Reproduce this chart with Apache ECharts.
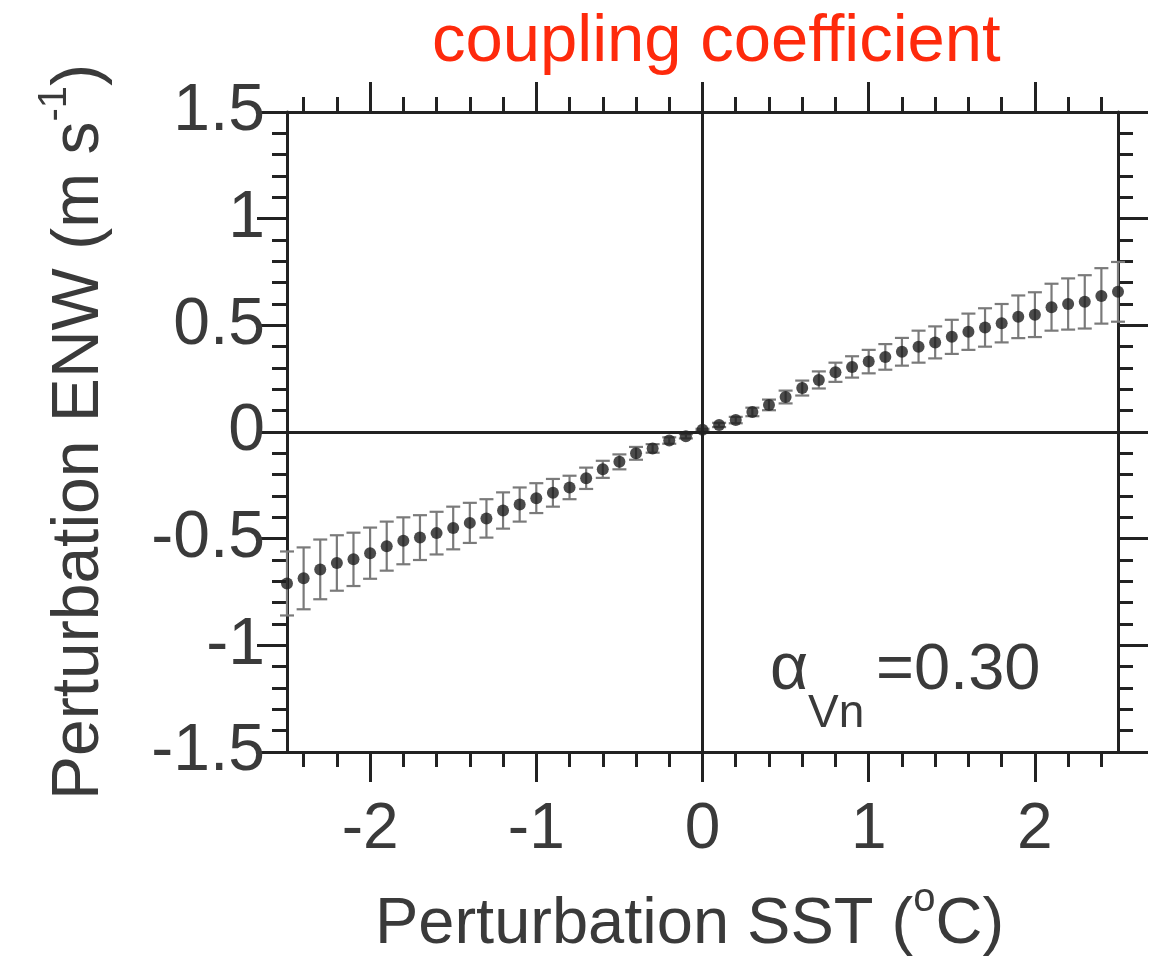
<!DOCTYPE html>
<html><head><meta charset="utf-8">
<script src="https://cdn.jsdelivr.net/npm/echarts@6/dist/echarts.min.js"></script>
<style>html,body{margin:0;padding:0;background:#fff}#c{width:1151px;height:965px}</style>
</head><body><div id="c"></div>
<script>
// Perturbation SST (°C)
const sstValues = [-2.5,-2.4,-2.3,-2.2,-2.1,-2.0,-1.9,-1.8,-1.7,-1.6,-1.5,-1.4,-1.3,-1.2,-1.1,-1.0,-0.9,-0.8,-0.7,-0.6,-0.5,-0.4,-0.3,-0.2,-0.1,0.0,0.1,0.2,0.3,0.4,0.5,0.6,0.7,0.8,0.9,1.0,1.1,1.2,1.3,1.4,1.5,1.6,1.7,1.8,1.9,2.0,2.1,2.2,2.3,2.4,2.5];
// Perturbation ENW (m s-1), mean
const enwValues = [-0.71,-0.686,-0.644,-0.614,-0.597,-0.568,-0.535,-0.51,-0.495,-0.474,-0.45,-0.426,-0.405,-0.368,-0.34,-0.31,-0.285,-0.26,-0.217,-0.175,-0.14,-0.10,-0.077,-0.04,-0.02,0.01,0.033,0.056,0.094,0.127,0.164,0.206,0.244,0.28,0.305,0.33,0.352,0.376,0.40,0.42,0.446,0.47,0.49,0.51,0.54,0.55,0.585,0.60,0.61,0.638,0.657];
// error bar half-widths
const enwError = [0.15,0.145,0.14,0.13,0.125,0.12,0.115,0.11,0.105,0.10,0.10,0.094,0.09,0.085,0.08,0.07,0.065,0.055,0.05,0.04,0.035,0.03,0.02,0.015,0.01,0.005,0.01,0.015,0.02,0.025,0.03,0.035,0.04,0.045,0.05,0.055,0.06,0.065,0.075,0.075,0.08,0.085,0.09,0.09,0.10,0.105,0.11,0.12,0.125,0.13,0.14];
// tick labels
const xTickLabels = [-2,-1,0,1,2];
const xMinorTicks = [-2.4,-2.2,-1.8,-1.6,-1.4,-1.2,-0.8,-0.6,-0.4,-0.2,0.2,0.4,0.6,0.8,1.2,1.4,1.6,1.8,2.2,2.4];
const yTickLabels = [-1.5,-1,-0.5,0,0.5,1,1.5];
const annotation = {alpha: 'α', sub: 'Vn', value: '=0.30'};

const FONT = "'Liberation Sans', Arial, Helvetica, sans-serif";
const INK = '#222';
const TXT = '#3a3a3a';

const points = sstValues.map((x,i)=>[x, enwValues[i]]);
const bars = sstValues.map((x,i)=>[x, enwValues[i]-enwError[i], enwValues[i]+enwError[i]]);

function xAxisBase(pos, major){
  return {
    type:'value', min:-2.5, max:2.5, position:pos,
    axisLine:{show:major, onZero:false, lineStyle:{color:INK, width:3}},
    axisTick:{show:true, inside:false, customValues: major ? xTickLabels : xMinorTicks,
      length: major ? 30 : 15, lineStyle:{color:INK, width:3}},
    axisLabel:{show:false},
    splitLine:{show:false}
  };
}
const xAxes = [xAxisBase('bottom',true), xAxisBase('bottom',false), xAxisBase('top',true), xAxisBase('top',false)];
xAxes[0].axisLabel = {show:true, customValues:xTickLabels, fontSize:64, color:TXT, fontFamily:FONT, margin:46};
xAxes[0].name = '{a|Perturbation SST (}{s|o}{a|C)}';
xAxes[0].nameLocation = 'middle';
xAxes[0].nameGap = 138;
xAxes[0].nameTextStyle = {padding:[0,26,0,0], rich:{
  a:{fontSize:65, color:TXT, fontFamily:FONT, lineHeight:70},
  s:{fontSize:40, color:TXT, fontFamily:FONT, lineHeight:40, padding:[0,0,50,0]}}};

function yAxisBase(pos, showLabel){
  return {
    type:'value', min:-1.5, max:1.5, interval:0.5, position:pos,
    axisLine:{show:true, onZero:false, lineStyle:{color:INK, width:3}},
    axisTick:{show:true, inside:false, length:30, lineStyle:{color:INK, width:3}},
    minorTick:{show:true, splitNumber:5, length:15, lineStyle:{color:INK, width:3}},
    axisLabel:{show:showLabel, fontSize:66, color:TXT, fontFamily:FONT, margin:22,
      customValues: yTickLabels},
    splitLine:{show:false}, minorSplitLine:{show:false}
  };
}
const yAxes = [yAxisBase('left',true), yAxisBase('right',false)];
yAxes[0].name = '{a|Perturbation ENW (m s}{s|-1}{a|)}';
yAxes[0].nameLocation = 'middle';
yAxes[0].nameRotate = 90;
yAxes[0].nameGap = 172;
yAxes[0].nameTextStyle = {rich:{
  a:{fontSize:66, color:TXT, fontFamily:FONT, lineHeight:70},
  s:{fontSize:40, color:TXT, fontFamily:FONT, lineHeight:40, padding:[0,0,50,0]}}};

const chart = echarts.init(document.getElementById('c'), null, {renderer:'canvas'});
chart.setOption({
  animation:false,
  backgroundColor:'#fff',
  title:{text:'coupling coefficient', left:427, top:4,
    textStyle:{fontSize:67, fontWeight:'normal', color:'#fe2a0c', fontFamily:FONT}},
  grid:{left:287, right:33, top:112, bottom:213, containLabel:false, outerBoundsMode:'none'},
  xAxis: xAxes,
  yAxis: yAxes,
  graphic:[
    {type:'text', x:770, y:671, z:10,
      style:{text:annotation.alpha, fontSize:66, fontFamily:FONT, fill:TXT, verticalAlign:'middle', align:'left'}},
    {type:'text', x:808, y:714, z:10,
      style:{text:annotation.sub, fontSize:46, fontFamily:FONT, fill:TXT, verticalAlign:'middle', align:'left'}},
    {type:'text', x:876, y:671, z:10,
      style:{text:annotation.value, fontSize:65, fontFamily:FONT, fill:TXT, verticalAlign:'middle', align:'left'}}
  ],
  series:[
    {type:'custom', xAxisIndex:0, yAxisIndex:0, data:bars, z:2,
      renderItem:function(params, api){
        const x = api.value(0), lo = api.value(1), hi = api.value(2);
        const p1 = api.coord([x,hi]), p2 = api.coord([x,lo]);
        const w = 7;
        const st = {stroke:'#7a7a7a', lineWidth:2.2};
        return {type:'group', children:[
          {type:'line', shape:{x1:p1[0],y1:p1[1],x2:p2[0],y2:p2[1]}, style:st},
          {type:'line', shape:{x1:p1[0]-w,y1:p1[1],x2:p1[0]+w,y2:p1[1]}, style:st},
          {type:'line', shape:{x1:p2[0]-w,y1:p2[1],x2:p2[0]+w,y2:p2[1]}, style:st}
        ]};
      }},
    {type:'scatter', xAxisIndex:0, yAxisIndex:0, data:points, symbolSize:12, z:3,
      itemStyle:{color:'#1e1e1e'},
      markLine:{silent:true, symbol:'none', label:{show:false}, animation:false,
        lineStyle:{color:INK, width:3, type:'solid'},
        data:[{xAxis:0},{yAxis:0}]}}
  ]
});
</script></body></html>
